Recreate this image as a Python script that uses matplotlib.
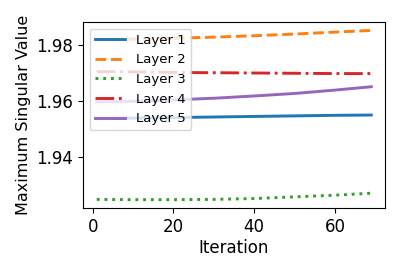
import matplotlib
matplotlib.use("Agg")
import matplotlib.pyplot as plt

iterations = [1, 10, 20, 30, 40, 50, 60, 69]
layer1 = [1.9538, 1.9540, 1.9542, 1.9544, 1.9546, 1.9548, 1.9550, 1.9551]
layer2 = [1.9821, 1.9822, 1.9825, 1.9829, 1.9834, 1.9840, 1.9847, 1.9853]
layer3 = [1.9250, 1.9249, 1.9249, 1.9250, 1.9253, 1.9259, 1.9265, 1.9272]
layer4 = [1.9706, 1.9705, 1.9703, 1.9702, 1.9701, 1.9700, 1.9699, 1.9699]
layer5 = [1.9598, 1.9600, 1.9605, 1.9611, 1.9619, 1.9628, 1.9640, 1.9652]

series = [
    ("Layer 1", layer1, "-"),
    ("Layer 2", layer2, "--"),
    ("Layer 3", layer3, ":"),
    ("Layer 4", layer4, "-."),
    ("Layer 5", layer5, "-"),
]

fig = plt.figure(figsize=(4.07, 2.71), dpi=100)
ax = fig.add_axes([0.204, 0.232, 0.742, 0.687])
for name, vals, ls in series:
    ax.plot(iterations, vals, linestyle=ls, linewidth=2.1, label=name)

ax.set_yticks([1.94, 1.96, 1.98])
ax.set_xticks([0, 20, 40, 60])
ax.tick_params(labelsize=12)
ax.set_xlabel("Iteration", fontsize=12, labelpad=2)
ax.set_ylabel("Maximum Singular Value", fontsize=11.5)
ax.legend(loc="upper left", fontsize=9.5, handlelength=2.3)

fig.savefig("out.png", dpi=100)
